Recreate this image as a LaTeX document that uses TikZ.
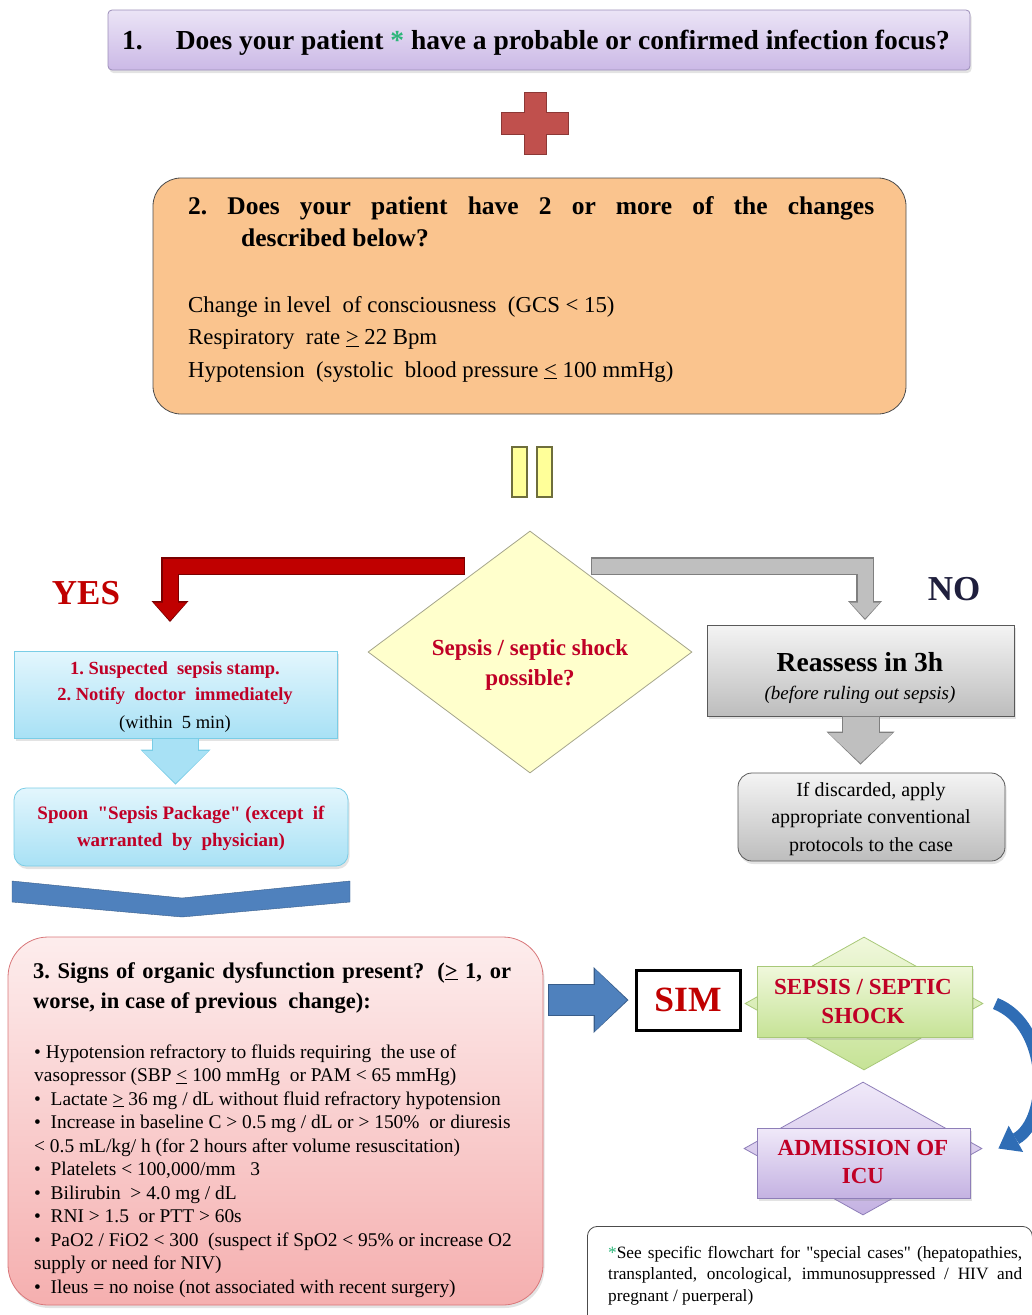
\documentclass[tikz,border=0pt]{standalone}
\usepackage{fontspec}
\setmainfont{Liberation Serif}
\usetikzlibrary{positioning,shapes.geometric,arrows.meta,calc,shadows}

\definecolor{lavtop}{HTML}{EBE4F6}
\definecolor{lavbot}{HTML}{CBB9E6}
\definecolor{lavline}{HTML}{9B8DB8}
\definecolor{orangefill}{HTML}{FAC48E}
\definecolor{plusred}{HTML}{C0504D}
\definecolor{plusline}{HTML}{8C3836}
\definecolor{barfill}{HTML}{FFFF99}
\definecolor{barline}{HTML}{6E6E3C}
\definecolor{diafill}{HTML}{FFFFCC}
\definecolor{dialine}{HTML}{A5A58C}
\definecolor{yesred}{HTML}{C00000}
\definecolor{yesline}{HTML}{7A0000}
\definecolor{nogray}{HTML}{BFBFBF}
\definecolor{noline}{HTML}{7F7F7F}
\definecolor{nonavy}{HTML}{1F1F3D}
\definecolor{graytop}{HTML}{F4F4F4}
\definecolor{graybot}{HTML}{BDBDBD}
\definecolor{cyantop}{HTML}{E3F6FD}
\definecolor{cyanbot}{HTML}{A8E1F5}
\definecolor{cyanline}{HTML}{7ACDE6}
\definecolor{chevblue}{HTML}{4F81BD}
\definecolor{chevline}{HTML}{385D8A}
\definecolor{pinktop}{HTML}{FDEDED}
\definecolor{pinkbot}{HTML}{F5AFAF}
\definecolor{pinkline}{HTML}{D9777A}
\definecolor{greentop}{HTML}{F0F8DC}
\definecolor{greenbot}{HTML}{C6E396}
\definecolor{greenline}{HTML}{A8C878}
\definecolor{violtop}{HTML}{F0E9F9}
\definecolor{violbot}{HTML}{C4B2E2}
\definecolor{violline}{HTML}{8E7EB8}
\definecolor{txtred}{HTML}{C00026}
\definecolor{stargreen}{HTML}{2DB67A}
\definecolor{curveblue}{HTML}{2F6DB5}

\newcommand{\fsz}[2]{\fontsize{#1}{#2}\selectfont}

\begin{document}
\begin{tikzpicture}[x=1pt, y=-1pt,
  panel/.style={draw, inner sep=0pt, line width=0.8pt},
  lifted/.style={drop shadow={opacity=0.22, shadow xshift=1.5pt, shadow yshift=-3pt}},
  txt/.style={anchor=base, inner sep=0pt},
  alarm/.style={txt, text=txtred, font=\fsz{18.5}{22}\bfseries}]
  \useasboundingbox (0,0) rectangle (1032,1315);

  % question 1
  \node[panel, lifted, rounded corners=4pt, draw=lavline, top color=lavtop, bottom color=lavbot, minimum width=862pt, minimum height=60pt] (q1) at (539,40) {};
  \node[txt, anchor=base west, font=\fsz{27.5}{30}\bfseries] (q1txt) at (122,49) {1.\hspace{33pt}Does your patient {\color{stargreen}*} have a probable or confirmed infection focus?};

  \fill[plusred, draw=plusline] (524,92) -- (546,92) -- (546,112) -- (568,112) -- (568,134) -- (546,134) -- (546,154) -- (524,154) -- (524,134) -- (501,134) -- (501,112) -- (524,112) -- cycle;

  % question 2
  \node[panel, rounded corners=28pt, draw=black!70, fill=orangefill, minimum width=753pt, minimum height=236pt] (q2) at (529.5,296) {};
  \node[txt, anchor=base west, font=\fsz{25.5}{30}\bfseries] (q2a) at (188,214) {\makebox[686pt][s]{2.\ Does your patient have 2 or more of the changes}};
  \node[txt, anchor=base west, font=\fsz{25.5}{30}\bfseries] (q2b) at (241,246) {described below?};
  \foreach \crit [count=\k] in {{Change in level\ \ of consciousness\ \ (GCS < 15)}, {Respiratory\ \ rate \underline{>} 22 Bpm}, {Hypotension\ \ (systolic\ \ blood pressure \underline{<} 100 mmHg)}}
    \node[txt, anchor=base west, font=\fsz{22.8}{26}] (crit\k) at (188,{312+32.5*(\k-1)}) {\crit};

  \draw[barline, fill=barfill, line width=1.2pt] (512,447) rectangle (527,497) (537,447) rectangle (552,497);

  % decision
  \node[panel, diamond, draw=dialine, fill=diafill, minimum width=324pt, minimum height=242pt] (dec) at (530,652) {};
  \node[alarm, font=\fsz{23}{26}\bfseries] (dec1) at (530,655) {Sepsis / septic shock};
  \node[alarm, font=\fsz{23}{26}\bfseries] (dec2) at (530,685) {possible?};

  % yes branch
  \node[txt, text=yesred, font=\fsz{35}{38}\bfseries] (yes) at (86,604) {YES};
  \coordinate (yesfrom) at (465,566);
  \coordinate (yesto) at (170,622);
  \draw[yesline, line width=18pt, -{Triangle[width=37pt,length=21pt,line width=0pt]}] (yesfrom) -| (yesto);
  \draw[yesred, line width=15pt, shorten <=1pt, -{Triangle[width=33pt,length=18pt,line width=0pt]}, shorten >=1.5pt] (yesfrom) -| (yesto);

  \node[panel, lifted, draw=cyanline, top color=cyantop, bottom color=cyanbot, minimum width=323pt, minimum height=87pt] (stamp) at (175.5,694.5) {};
  \node[alarm] (stamp1) at (175,674) {1.\ Suspected\ \ sepsis stamp.};
  \node[alarm] (stamp2) at (175,700) {2.\ Notify\ \ doctor\ \ immediately};
  \node[txt, font=\fsz{18.5}{22}] (stamp3) at (175,728) {(within\ \ 5 min)};

  \node[panel, lifted, rounded corners=12pt, draw=cyanline, top color=cyantop, bottom color=cyanbot, minimum width=334pt, minimum height=78pt] (spoon) at (181,827) {};
  \draw[cyanline, line width=47pt, -{Triangle[width=70pt,length=35pt,line width=0pt]}, shorten >=3pt] (stamp.south) -- (stamp.south |- spoon.north);
  \draw[cyanbot, line width=45pt, shorten <=1pt, -{Triangle[width=66pt,length=32pt,line width=0pt]}, shorten >=4.5pt] (stamp.south) -- (stamp.south |- spoon.north);
  \node[alarm, font=\fsz{19}{22}\bfseries] (spoon1) at (181,819) {Spoon\ \ \textquotedbl Sepsis Package\textquotedbl\ (except\ \ if};
  \node[alarm, font=\fsz{19}{22}\bfseries] (spoon2) at (181,846) {warranted\ \ by\ \ physician)};

  \fill[chevblue, draw=chevline] (12,881) -- (182,898) -- (350,881) -- (350,902) -- (182,917) -- (12,902) -- cycle;

  % no branch
  \node[txt, text=nonavy, font=\fsz{35}{38}\bfseries] (no) at (954,600) {NO};
  \coordinate (nofrom) at (591,566);
  \coordinate (noto) at (865,620);
  \draw[noline, line width=17.5pt, -{Triangle[width=34pt,length=19pt,line width=0pt]}] (nofrom) -| (noto);
  \draw[nogray, line width=15pt, shorten <=1pt, -{Triangle[width=30pt,length=16pt,line width=0pt]}, shorten >=1.5pt] (nofrom) -| (noto);

  \node[panel, lifted, draw=black!65, top color=graytop, bottom color=graybot, minimum width=307pt, minimum height=91pt] (reass) at (860.5,670.5) {};
  \node[txt, font=\fsz{27.5}{30}\bfseries] (reass1) at (860,671) {Reassess in 3h};
  \node[txt, font=\fsz{19}{22}\itshape] (reass2) at (860,699) {(before ruling out sepsis)};

  \node[panel, lifted, rounded corners=14pt, draw=black!65, top color=graytop, bottom color=graybot, minimum width=267pt, minimum height=88pt] (disc) at (871.5,817) {};
  \draw[noline, line width=38pt, -{Triangle[width=68pt,length=33pt,line width=0pt]}, shorten >=8pt] (reass.south) -- (reass.south |- disc.north);
  \draw[nogray, line width=36pt, shorten <=1pt, -{Triangle[width=64pt,length=30pt,line width=0pt]}, shorten >=9.5pt] (reass.south) -- (reass.south |- disc.north);
  \foreach \ln [count=\k] in {{If discarded, apply}, {appropriate conventional}, {protocols to the case}}
    \node[txt, font=\fsz{20}{22}] (disc\k) at (871,{796+27.5*(\k-1)}) {\ln};

  % organ dysfunction
  \node[panel, lifted, rounded corners=40pt, draw=pinkline, top color=pinktop, bottom color=pinkbot, minimum width=535pt, minimum height=368pt] (dys) at (275.5,1121) {};
  \node[txt, anchor=base west, font=\fsz{22.5}{25}\bfseries] (dys1) at (33,978) {\makebox[478pt][s]{3.\ Signs of organic dysfunction present? (\underline{>} 1, or}};
  \node[txt, anchor=base west, font=\fsz{22.5}{25}\bfseries] (dys2) at (33,1008) {worse, in case of previous\ \ change):};
  \foreach \sign [count=\k] in {
      {\textbullet\ Hypotension refractory to fluids requiring\ \ the use of},
      {vasopressor (SBP \underline{<} 100 mmHg\ \ or PAM < 65 mmHg)},
      {\textbullet\ \ Lactate \underline{>} 36 mg / dL without fluid refractory hypotension},
      {\textbullet\ \ Increase in baseline C > 0.5 mg / dL or > 150\%\ \ or diuresis},
      {< 0.5 mL/kg/ h (for 2 hours after volume resuscitation)},
      {\textbullet\ \ Platelets < 100,000/mm\ \ \ 3},
      {\textbullet\ \ Bilirubin\ \ > 4.0 mg / dL},
      {\textbullet\ \ RNI > 1.5\ \ or PTT > 60s},
      {\textbullet\ \ PaO2 / FiO2 < 300\ \ (suspect if SpO2 < 95\% or increase O2},
      {supply or need for NIV)},
      {\textbullet\ \ Ileus = no noise (not associated with recent surgery)}}
    \node[txt, anchor=base west, font=\fsz{19.4}{21}] (sign\k) at (34,{1058+23.5*(\k-1)}) {\sign};

  % escalation
  \node[panel, draw=black, line width=3pt, fill=white, minimum width=104pt, minimum height=60pt, font=\fsz{35.5}{38}\bfseries, text=yesred] (sim) at (688,1000) {SIM};
  \draw[chevline, line width=32pt, -{Triangle[width=66pt,length=35pt,line width=0pt]}, shorten <=5pt, shorten >=6pt] (dys.east |- sim.west) -- (sim.west);
  \draw[chevblue, line width=30pt, shorten <=6pt, -{Triangle[width=62pt,length=32pt,line width=0pt]}, shorten >=7.5pt] (dys.east |- sim.west) -- (sim.west);

  \node[panel, diamond, draw=greenline, top color=greentop, bottom color=greenbot, minimum width=238pt, minimum height=133pt] (sepd) at (864,1003.5) {};
  \node[panel, lifted, draw=greenline, top color=greentop, bottom color=greenbot, minimum width=215pt, minimum height=71pt] (sepr) at (864.5,1001.5) {};
  \node[alarm, font=\fsz{23}{26}\bfseries] (sep1) at (863,994) {SEPSIS / SEPTIC};
  \node[alarm, font=\fsz{23}{26}\bfseries] (sep2) at (863,1023) {SHOCK};

  \node[panel, diamond, draw=violline, top color=violtop, bottom color=violbot, minimum width=238pt, minimum height=133pt] (icud) at (863,1148.5) {};
  \node[panel, lifted, draw=violline, top color=violtop, bottom color=violbot, minimum width=213pt, minimum height=70pt] (icur) at (863.5,1163) {};
  \node[alarm, font=\fsz{23}{26}\bfseries] (icu1) at (863,1155) {ADMISSION OF};
  \node[alarm, font=\fsz{23}{26}\bfseries] (icu2) at (863,1183) {ICU};

  \draw[curveblue, line width=12pt, -{Triangle[width=30pt,length=20pt,line width=0pt]}] ([xshift=12pt]sepd.east) .. controls (1050,1025) and (1050,1120) .. ([xshift=16pt]icud.east);

  % footnote
  \node[panel, draw=black!70, rounded corners=10pt, fill=white, minimum width=445pt, minimum height=110pt, anchor=north west] (note) at (587,1226) {};
  \node[txt, anchor=base west, font=\fsz{17.3}{18}] (note1) at (608,1258) {\makebox[414pt][s]{{\color{stargreen}*}See specific flowchart for \textquotedbl special cases\textquotedbl\ (hepatopathies,}};
  \node[txt, anchor=base west, font=\fsz{17.3}{18}] (note2) at (608,1279.5) {\makebox[414pt][s]{transplanted, oncological, immunosuppressed / HIV and}};
  \node[txt, anchor=base west, font=\fsz{17.3}{18}] (note3) at (608,1301) {pregnant / puerperal)};
\end{tikzpicture}
\end{document}
